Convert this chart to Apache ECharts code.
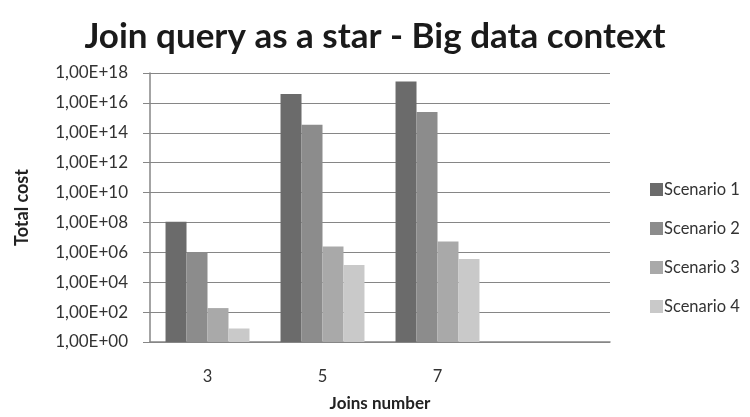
<!DOCTYPE html>
<html>
<head>
<meta charset="UTF-8"/>
<script src="https://cdn.jsdelivr.net/npm/echarts@6/dist/echarts.min.js"></script>
<style>
  html, body { margin: 0; padding: 0; background: #fff; }
  #main { width: 750px; height: 417px; }
</style>
</head>
<body>
<div id="main"></div>
<script type="text/javascript">
    // categories (the 4th slot is empty in the original chart)
    var joins = ['3', '5', '7', ''];
    var seriesNames = ['Scenario 1', 'Scenario 2', 'Scenario 3', 'Scenario 4'];
    var scenario1 = [1.1e8, 3.9e16, 2.7e17, null];
    var scenario2 = [1.0e6, 3.5e14, 2.5e15, null];
    var scenario3 = [186, 2.5e6, 5.4e6, null];
    var scenario4 = [8, 1.4e5, 3.6e5, null];
    var colors = ['#6b6b6b', '#8c8c8c', '#a9a9a9', '#c9c9c9'];

    var font = 'Lato, "Open Sans", sans-serif';

    function expLabel(v) {
        var e = Math.round(Math.log10(v));
        return '1,00E+' + (e < 10 ? '0' + e : e);
    }

    var myChart = echarts.init(document.getElementById('main'));
    var allData = [scenario1, scenario2, scenario3, scenario4];
    var series = [];
    for (var i = 0; i < 4; i++) {
        series.push({
            name: seriesNames[i],
            type: 'bar',
            data: allData[i],
            barGap: '0%',
            barCategoryGap: '27%',
            itemStyle: {color: colors[i]}
        });
    }

    var option = {
        animation: false,
        textStyle: {fontFamily: font},
        title: {
            text: 'Join query as a star - Big data context',
            left: 'center',
            top: 14,
            textStyle: {fontFamily: font, fontSize: 35, fontWeight: 'bold', color: '#1a1a1a'}
        },
        legend: {
            orient: 'vertical',
            left: 645,
            top: 176,
            itemWidth: 13,
            itemHeight: 13,
            itemGap: 22,
            icon: 'rect',
            data: seriesNames,
            textStyle: {fontFamily: font, fontSize: 16.5, color: '#333', padding: [0, 0, 0, -4]}
        },
        grid: {left: 150, right: 140, top: 73, bottom: 72},
        xAxis: {
            type: 'category',
            data: joins,
            name: 'Joins number',
            nameLocation: 'middle',
            nameGap: 53,
            nameTextStyle: {fontFamily: font, fontSize: 17, fontWeight: 'bold', color: '#222'},
            axisLine: {lineStyle: {color: '#868686', width: 1.5}},
            axisTick: {show: false},
            axisLabel: {fontSize: 16.5, color: '#333', margin: 26}
        },
        yAxis: {
            type: 'log',
            logBase: 10,
            min: 1,
            max: 1e18,
            interval: 2,
            name: 'Total cost',
            nameLocation: 'middle',
            nameRotate: 90,
            nameGap: 119,
            nameTextStyle: {fontFamily: font, fontSize: 18, fontWeight: 'bold', color: '#222'},
            axisLine: {show: true, lineStyle: {color: '#868686', width: 1.5}},
            axisTick: {show: true, inside: false, length: 7, lineStyle: {color: '#868686'}},
            axisLabel: {fontSize: 17, color: '#333', margin: 22, formatter: expLabel},
            splitLine: {show: true, lineStyle: {color: '#868686', width: 1.2}}
        },
        series: series
    };
    myChart.setOption(option);
</script>
</body>
</html>
